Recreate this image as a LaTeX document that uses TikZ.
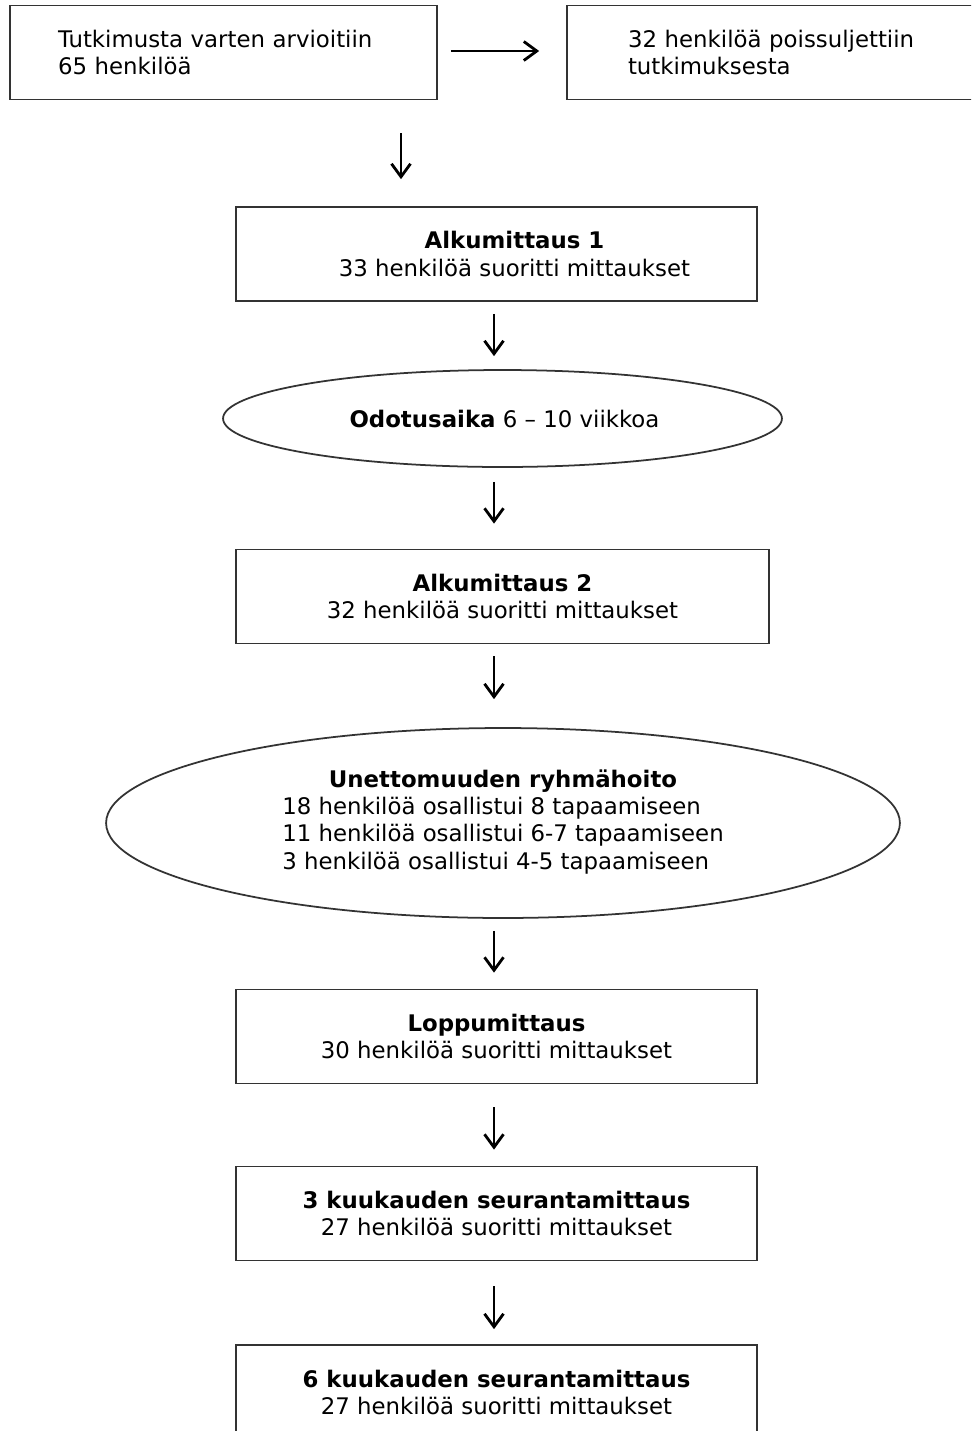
\documentclass[tikz,border=0pt]{standalone}
\usepackage{fontspec}
\setmainfont{DejaVu Sans}
\usetikzlibrary{arrows.meta,shapes.geometric}
\tikzset{
	box/.style={draw=black!80, line width=1pt, rectangle, minimum height=1.88cm, inner sep=0pt, align=center, font=\fontsize{13}{15.4}\selectfont},
	oval/.style={draw=black!80, line width=1pt, ellipse, inner sep=0pt, align=center, font=\fontsize{13}{15.4}\selectfont},
	txt/.style={align=center, inner sep=0pt, font=\fontsize{13}{15.4}\selectfont},
	arr/.style={line width=1.6pt, -{Straight Barb[length=2.6mm, width=3.8mm, line width=1.6pt]}}
}

\begin{document}
\begin{tikzpicture}[x=0.02cm, y=-0.02cm]
		%%%%% START %%%%%
		\clip (0, 0) rectangle (971, 1431);
		\fill[white] (0, 0) rectangle (971, 1431);
		
		\coordinate (col1) at (401, 0);
		\coordinate (col2) at (494, 0);
		
		\node[box, minimum width=8.54cm, text width=6.62cm, inner xsep=0.96cm, align=left] (arvio) at (223.5, 52.5) {Tutkimusta varten arvioitiin\\65 henkilöä};
		\node[box, minimum width=8.46cm, text width=6.02cm, inner xsep=1.22cm, align=left] (pois) at (778.5, 52.5) {32 henkilöä poissuljettiin\\tutkimuksesta};
		
		\node[box, minimum width=10.42cm] (alku1) at (496.5, 254) {};
		\node[txt] (alku1t) at (514.5, 254) {\textbf{Alkumittaus 1}\\33 henkilöä suoritti mittaukset};
		
		\node[oval, minimum width=11.18cm, minimum height=1.94cm] (odotus) at (502.5, 418.5) {\hspace*{0.08cm}\textbf{Odotusaika} 6 -- 10 viikkoa};
		
		\node[box, minimum width=10.66cm] (alku2) at (502.5, 596.5) {\textbf{Alkumittaus 2}\\32 henkilöä suoritti mittaukset};
		
		\node[oval, minimum width=15.88cm, minimum height=3.8cm] (hoito) at (503, 823) {%
			\begin{tabular}{@{}l@{}}
				\multicolumn{1}{@{}c@{}}{\textbf{Unettomuuden ryhmähoito}}\\
				18 henkilöä osallistui 8 tapaamiseen\\
				11 henkilöä osallistui 6-7 tapaamiseen\\
				3 henkilöä osallistui 4-5 tapaamiseen
			\end{tabular}};
		
		\node[box, minimum width=10.42cm] (loppu) at (496.5, 1036.5) {\textbf{Loppumittaus}\\30 henkilöä suoritti mittaukset};
		\node[box, minimum width=10.42cm] (seur3) at (496.5, 1213.5) {\textbf{3 kuukauden seurantamittaus}\\27 henkilöä suoritti mittaukset};
		\node[box, minimum width=10.42cm] (seur6) at (496.5, 1392) {\textbf{6 kuukauden seurantamittaus}\\27 henkilöä suoritti mittaukset};
		
		\draw[arr, shorten <=0.26cm, shorten >=0.54cm] (arvio.east |- 0,51) -- (pois.west |- 0,51);
		\draw[arr, shorten <=0.66cm, shorten >=0.54cm] (arvio.south -| col1) -- (alku1.north -| col1);
		\draw[arr, shorten <=0.24cm, shorten >=0.26cm] (alku1.south -| col2) -- (odotus.north -| col2);
		\draw[arr, shorten <=0.28cm, shorten >=0.50cm] (odotus.south -| col2) -- (alku2.north -| col2);
		\draw[arr, shorten <=0.24cm, shorten >=0.56cm] (alku2.south -| col2) -- (hoito.north -| col2);
		\draw[arr, shorten <=0.24cm, shorten >=0.32cm] (hoito.south -| col2) -- (loppu.north -| col2);
		\draw[arr, shorten <=0.46cm, shorten >=0.32cm] (loppu.south -| col2) -- (seur3.north -| col2);
		\draw[arr, shorten <=0.50cm, shorten >=0.30cm] (seur3.south -| col2) -- (seur6.north -| col2);
		
		%%%%% END %%%%%
	\end{tikzpicture}
\end{document}
